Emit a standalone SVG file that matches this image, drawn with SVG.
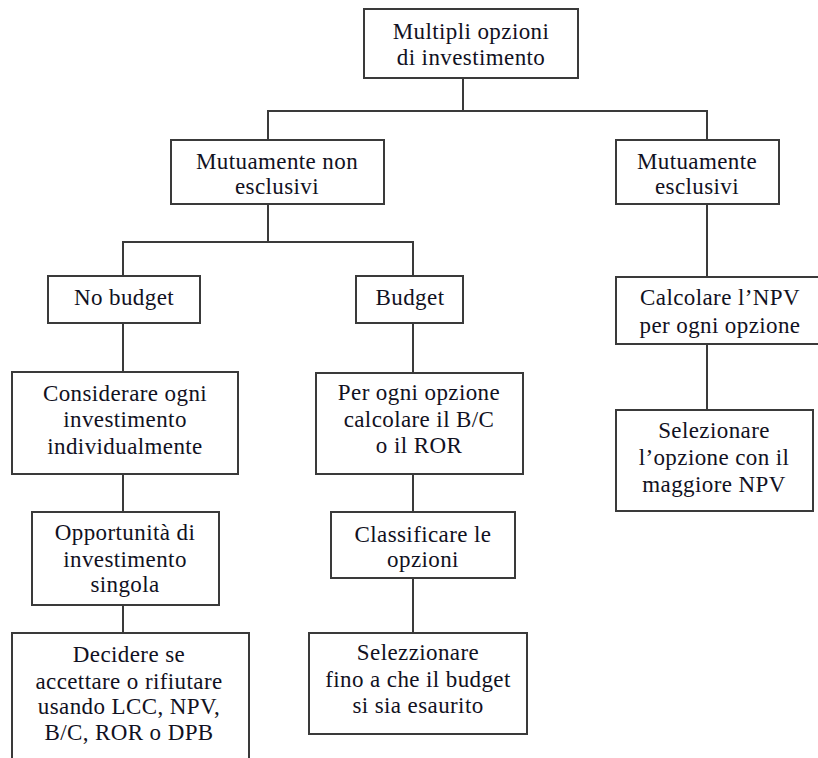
<svg xmlns="http://www.w3.org/2000/svg" width="818" height="758" viewBox="0 0 818 758">
<style>
rect.box{fill:#fff;stroke:#3a3a3a;stroke-width:2}
#connectors line{stroke:#3a3a3a;stroke-width:2}
text{font-size:23px;fill:#111122;text-anchor:middle;letter-spacing:0.4px}
</style>
<rect width="818" height="758" fill="#fff"/>
<g id="connectors">
<line x1="463" y1="78" x2="463" y2="111"/>
<line x1="267" y1="111" x2="708" y2="111"/>
<line x1="268" y1="111" x2="268" y2="140"/>
<line x1="707" y1="111" x2="707" y2="140"/>
<line x1="268" y1="204" x2="268" y2="242"/>
<line x1="122" y1="242" x2="414" y2="242"/>
<line x1="123" y1="242" x2="123" y2="276"/>
<line x1="413" y1="242" x2="413" y2="276"/>
<line x1="123" y1="323" x2="123" y2="372"/>
<line x1="413" y1="323" x2="413" y2="373"/>
<line x1="707" y1="204" x2="707" y2="277"/>
<line x1="707" y1="344" x2="707" y2="410"/>
<line x1="123" y1="474" x2="123" y2="512"/>
<line x1="413" y1="474" x2="413" y2="512"/>
<line x1="123" y1="605" x2="123" y2="633"/>
<line x1="413" y1="578" x2="413" y2="633"/>
</g>
<g font-family="Liberation Serif, DejaVu Serif, serif">
<g id="n1"><rect class="box" x="364" y="9" width="214" height="69"/><text x="471" y="39">Multipli opzioni</text><text x="471" y="65">di investimento</text></g>
<g id="n2"><rect class="box" x="171" y="140" width="213" height="64"/><text x="277" y="169">Mutuamente non</text><text x="277" y="194">esclusivi</text></g>
<g id="n3"><rect class="box" x="616" y="140" width="163" height="64"/><text x="697" y="169">Mutuamente</text><text x="697" y="194">esclusivi</text></g>
<g id="n4"><rect class="box" x="48" y="276" width="152" height="47"/><text x="124" y="305">No budget</text></g>
<g id="n5"><rect class="box" x="356" y="276" width="107" height="47"/><text x="410" y="305">Budget</text></g>
<g id="n6"><rect class="box" x="616" y="277" width="208" height="67"/><text x="720" y="305">Calcolare l’NPV</text><text x="720" y="333">per ogni opzione</text></g>
<g id="n7"><rect class="box" x="12" y="372" width="226" height="102"/><text x="125" y="401">Considerare ogni</text><text x="125" y="427">investimento</text><text x="125" y="454">individualmente</text></g>
<g id="n8"><rect class="box" x="316" y="373" width="207" height="101"/><text x="419" y="400">Per ogni opzione</text><text x="419" y="427">calcolare il B/C</text><text x="419" y="453">o il ROR</text></g>
<g id="n9"><rect class="box" x="616" y="410" width="197" height="101"/><text x="714" y="438">Selezionare</text><text x="714" y="465">l’opzione con il</text><text x="714" y="492">maggiore NPV</text></g>
<g id="n10"><rect class="box" x="32" y="512" width="187" height="93"/><text x="125" y="540">Opportunità di</text><text x="125" y="567">investimento</text><text x="125" y="592">singola</text></g>
<g id="n11"><rect class="box" x="331" y="512" width="184" height="66"/><text x="423" y="542">Classificare le</text><text x="423" y="567">opzioni</text></g>
<g id="n12"><rect class="box" x="12" y="633" width="237" height="140"/><text x="129" y="662">Decidere se</text><text x="129" y="689">accettare o rifiutare</text><text x="129" y="714">usando LCC, NPV,</text><text x="129" y="740">B/C, ROR o DPB</text></g>
<g id="n13"><rect class="box" x="309" y="633" width="218" height="101"/><text x="418" y="660">Selezzionare</text><text x="418" y="687">fino a che il budget</text><text x="418" y="713">si sia esaurito</text></g>
</g>
</svg>
